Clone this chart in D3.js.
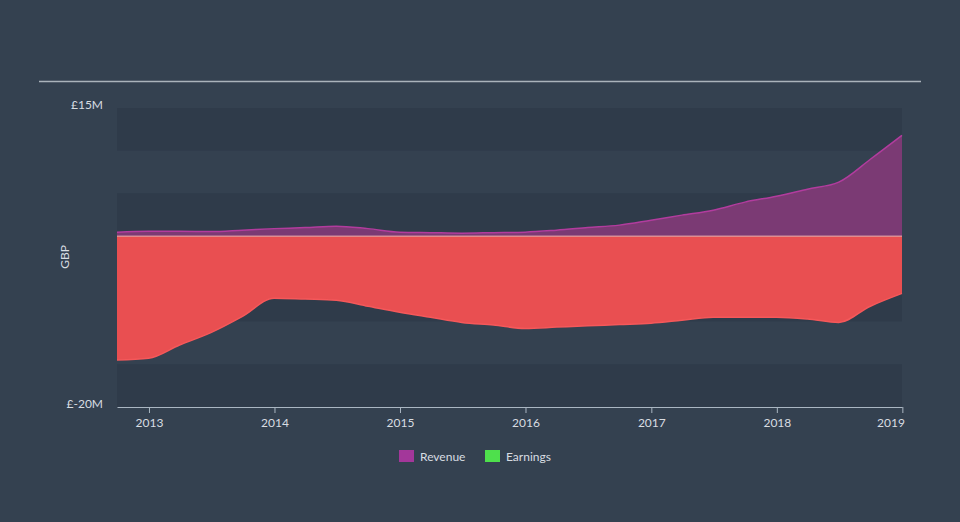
<!DOCTYPE html>
<html><head><meta charset="utf-8">
<script src="https://cdn.jsdelivr.net/npm/d3@7"></script>
<style>
html,body{margin:0;padding:0;background:#344150;}
svg{display:block;}
text{font-family:"Lato","Open Sans",sans-serif;}
</style></head>
<body>
<svg id="c" width="960" height="522"></svg>
<script>
const dates = ["2012-09-30","2012-12-31","2013-03-31","2013-06-30","2013-09-30","2013-12-31",
"2014-03-31","2014-06-30","2014-09-30","2014-12-31","2015-03-31","2015-06-30","2015-09-30","2015-12-31",
"2016-03-31","2016-06-30","2016-09-30","2016-12-31","2017-03-31","2017-06-30","2017-09-30","2017-12-31",
"2018-03-31","2018-06-30","2018-09-30","2018-12-31"];
const revenue = [0.47,0.58,0.58,0.53,0.7,0.88,1.0,1.17,0.88,0.47,0.41,0.35,0.41,0.47,0.7,1.0,1.29,1.87,2.46,3.04,3.98,4.68,5.5,6.32,9.0,11.8];
const earnings = [-14.5,-14.3,-12.75,-11.3,-9.4,-7.26,-7.37,-7.5,-8.2,-8.9,-9.5,-10.1,-10.4,-10.8,-10.65,-10.5,-10.35,-10.2,-9.85,-9.5,-9.5,-9.5,-9.7,-10.1,-8.2,-6.7];
const yTickValues = [15,-20];
const yTickLabels = ["£15M","£-20M"];
const xTickYears = [2013,2014,2015,2016,2017,2018,2019];
const legendNames = ["Revenue","Earnings"];
const legendColors = ["#a3379a","#4ee04c"];

const svg = d3.select("#c");
const parse = d3.timeParse("%Y-%m-%d");
const dd = dates.map(parse);
const L=117, R=902, T=108, B=407;
const x = d3.scaleTime().domain([dd[0], dd[dd.length-1]]).range([L,R]);
const y = d3.scaleLinear().domain([-20,15]).range([B,T]);

// background bands
const bands = d3.range(15,-20,-5);
svg.selectAll("rect.band").data(bands).enter().append("rect")
  .attr("x",L).attr("width",R-L)
  .attr("y",d=>y(d)).attr("height",d=>y(d-5)-y(d))
  .attr("fill",(d,i)=> i%2===0 ? "#2f3b4a" : "#344150");

// top rule
svg.append("line").attr("x1",39).attr("x2",921).attr("y1",81.5).attr("y2",81.5)
  .attr("stroke","#aab3bb").attr("stroke-width",1.5);

const curve = d3.curveMonotoneX;
const revData = dd.map((d,i)=>({d, v:revenue[i]}));
const earnData = dd.map((d,i)=>({d, v:earnings[i]}));

svg.append("path").datum(revData)
  .attr("d", d3.area().x(p=>x(p.d)).y0(y(0)).y1(p=>y(p.v)).curve(curve))
  .attr("fill","#7b3a74");
svg.append("path").datum(revData)
  .attr("d", d3.line().x(p=>x(p.d)).y(p=>y(p.v)).curve(curve))
  .attr("fill","none").attr("stroke","#b23c9e").attr("stroke-width",1.5);

svg.append("path").datum(earnData)
  .attr("d", d3.area().x(p=>x(p.d)).y0(y(0)).y1(p=>y(p.v)).curve(curve))
  .attr("fill","#e94f51");
svg.append("path").datum(earnData)
  .attr("d", d3.line().x(p=>x(p.d)).y(p=>y(p.v)).curve(curve))
  .attr("fill","none").attr("stroke","#f5585a").attr("stroke-width",1.5);

// zero line
svg.append("line").attr("x1",L).attr("x2",R).attr("y1",y(0)).attr("y2",y(0))
  .attr("stroke","#f4b0b0").attr("stroke-width",1);

// y tick labels
svg.selectAll("text.yt").data(yTickValues).enter().append("text")
  .attr("x",103).attr("y",d=>y(d)).attr("dy", (d,i)=> i===0 ? "0.1em" : "0.05em")
  .attr("text-anchor","end").attr("fill","#d8dde2").attr("font-size",12)
  .text((d,i)=>yTickLabels[i]);

svg.append("text").attr("transform","translate(69,257) rotate(-90)")
  .attr("text-anchor","middle").attr("fill","#d8dde2").attr("font-size",12).text("GBP");

// x axis
const xAxis = d3.axisBottom(x)
  .tickValues(xTickYears.map(yr=>new Date(yr,0,1)))
  .tickFormat(d3.timeFormat("%Y")).tickSize(6).tickSizeOuter(0);
const gx = svg.append("g").attr("transform",`translate(0,${B})`).call(xAxis);
gx.select(".domain").attr("stroke","#aab6c2");
gx.selectAll(".tick line").attr("stroke","#aab6c2");
gx.selectAll(".tick text").attr("fill","#d8dde2").attr("font-size",12).attr("dy","0.95em")
  .attr("font-family","Lato, 'Open Sans', sans-serif")
  .attr("text-anchor",(d,i,n)=> i===n.length-1 ? "end" : "middle")
  .attr("x",(d,i,n)=> i===n.length-1 ? 2 : 0);

// legend
const lg = svg.append("g");
const lx = [399, 485];
legendNames.forEach((n,i)=>{
  lg.append("rect").attr("x",lx[i]).attr("y",450).attr("width",15).attr("height",12).attr("fill",legendColors[i]);
  lg.append("text").attr("x",lx[i]+21).attr("y",460.5).attr("fill","#d8dde2").attr("font-size",12).text(n);
});
</script>
</body></html>
